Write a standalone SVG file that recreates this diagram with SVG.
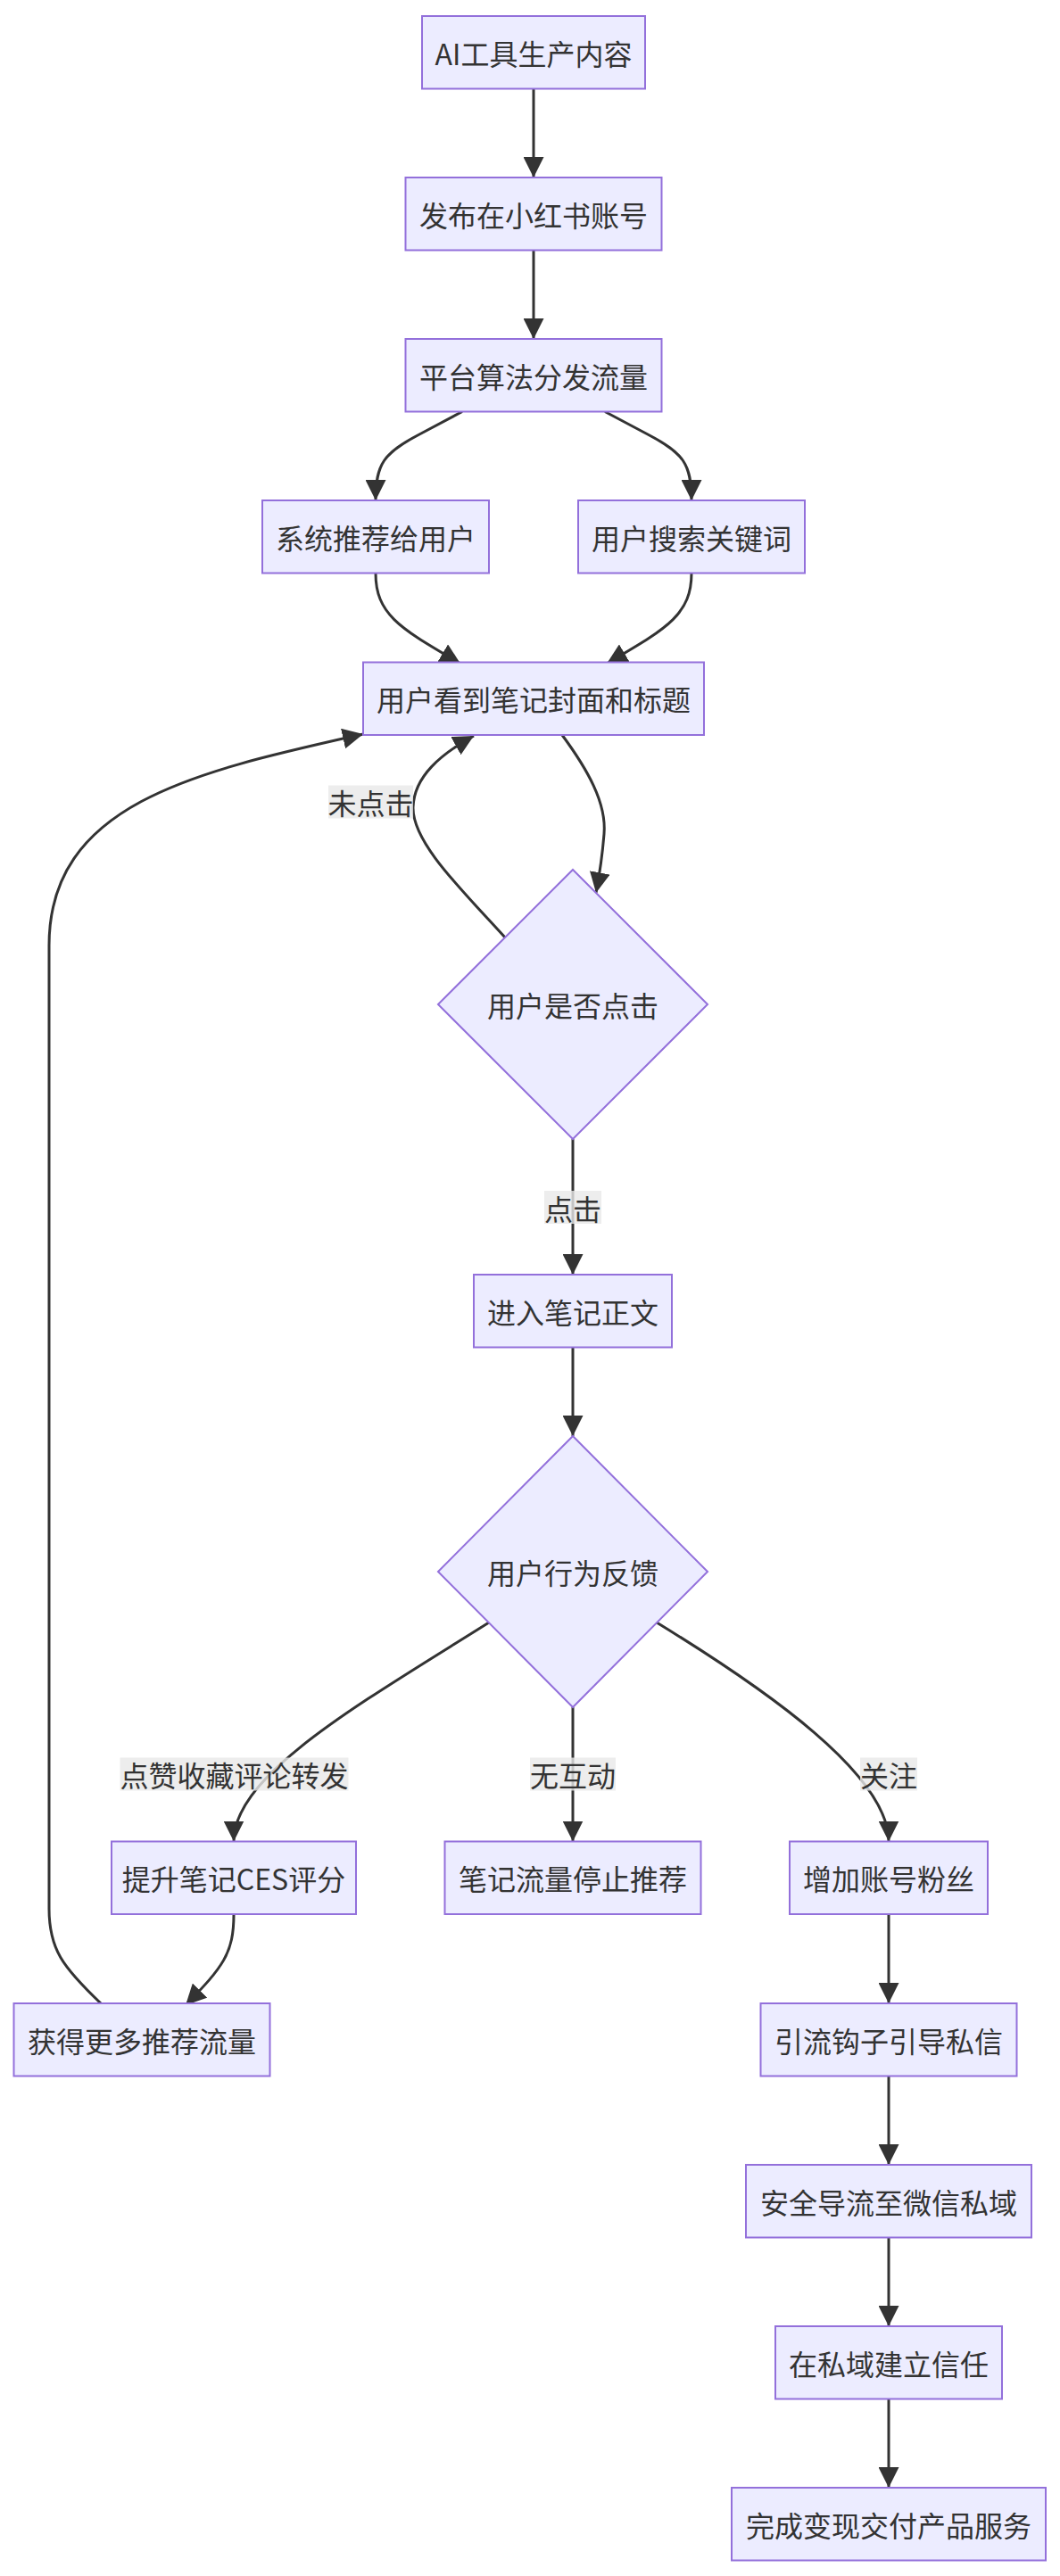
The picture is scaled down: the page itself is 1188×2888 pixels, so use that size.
<svg xmlns="http://www.w3.org/2000/svg" width="1188" height="2888" viewBox="0 0 1188 2888">
<defs>
<style>
.node rect,.node polygon{fill:#ECECFF;stroke:#9370DB;stroke-width:2}
.node text,.lbl text{font-family:"Noto Sans CJK SC","Noto Sans",sans-serif;font-size:32px;fill:#333;text-anchor:middle;dominant-baseline:central}
.edge{fill:none;stroke:#333;stroke-width:3;marker-end:url(#arrow)}
.lbl rect{fill:#e8e8e8;fill-opacity:0.8}
</style>
<marker id="arrow" viewBox="0 0 10 10" refX="10" refY="5" markerUnits="userSpaceOnUse" markerWidth="23" markerHeight="23" orient="auto">
<path d="M0,0 L10,5 L0,10 z" fill="#333"/>
</marker>
</defs>
<rect width="1188" height="2888" fill="#fff"/>
<g id="connectors">
<path class="edge" d="M598,99.5 L598,199"/>
<path class="edge" d="M598,280.5 L598,380"/>
<path class="edge" d="M518,461.5 L470,487 C430,508 421,520 421,561"/>
<path class="edge" d="M678,461.5 L726,487 C766,508 775,520 775,561"/>
<path class="edge" d="M421,642.5 C421,690 450,705 516,744"/>
<path class="edge" d="M775,642.5 C775,690 746,705 680,744"/>
<path class="edge" d="M630,824 C658,862 680,900 677,935 C675,960 672,980 668,1001"/>
<path class="edge" d="M566,1051 C520,1000 462,945 463,905 C464,870 495,845 531,825"/>
<path class="edge" d="M642,1277 L642,1429"/>
<path class="edge" d="M642,1510.5 L642,1610"/>
<path class="edge" d="M548,1819 C400,1912 262,1990 262,2064.5"/>
<path class="edge" d="M642,1914 L642,2064.5"/>
<path class="edge" d="M736,1819 C860,1895 996,1990 996,2064.5"/>
<path class="edge" d="M262,2146 C262,2190 250,2205 208,2248"/>
<path class="edge" d="M113,2246 C70,2205 55,2185 55,2140 L55,1060 C55,900 220,865 407,823"/>
<path class="edge" d="M996,2146 L996,2246"/>
<path class="edge" d="M996,2327.5 L996,2427"/>
<path class="edge" d="M996,2508.5 L996,2608"/>
<path class="edge" d="M996,2689.5 L996,2789"/>
</g>
<g id="edge-labels">
<g class="lbl"><rect x="368" y="880.5" width="95" height="37"/><text x="415.5" y="899">未点击</text></g>
<g class="lbl"><rect x="610" y="1335" width="64" height="37"/><text x="642" y="1353.5">点击</text></g>
<g class="lbl"><rect x="134.5" y="1970.5" width="256" height="37"/><text x="262.5" y="1989">点赞收藏评论转发</text></g>
<g class="lbl"><rect x="594" y="1970.5" width="96" height="37"/><text x="642" y="1989">无互动</text></g>
<g class="lbl"><rect x="964" y="1970.5" width="64" height="37"/><text x="996" y="1989">关注</text></g>
</g>
<g id="n1" class="node"><rect x="473" y="18" width="250" height="81.5"/><text x="598" y="58.75">AI工具生产内容</text></g>
<g id="n2" class="node"><rect x="454.5" y="199" width="287" height="81.5"/><text x="598" y="239.75">发布在小红书账号</text></g>
<g id="n3" class="node"><rect x="454.5" y="380" width="287" height="81.5"/><text x="598" y="420.75">平台算法分发流量</text></g>
<g id="n4" class="node"><rect x="294" y="561" width="254" height="81.5"/><text x="421" y="601.75">系统推荐给用户</text></g>
<g id="n5" class="node"><rect x="648" y="561" width="254" height="81.5"/><text x="775" y="601.75">用户搜索关键词</text></g>
<g id="n6" class="node"><rect x="407" y="742.5" width="382" height="81.5"/><text x="598" y="783.25">用户看到笔记封面和标题</text></g>
<g id="n7" class="node"><polygon points="642,975 793,1126 642,1277 491,1126"/><text x="642" y="1126">用户是否点击</text></g>
<g id="n8" class="node"><rect x="531" y="1429" width="222" height="81.5"/><text x="642" y="1469.75">进入笔记正文</text></g>
<g id="n9" class="node"><polygon points="642,1610 793,1762 642,1914 491,1762"/><text x="642" y="1762">用户行为反馈</text></g>
<g id="n10" class="node"><rect x="125" y="2064.5" width="274" height="81.5"/><text x="262" y="2105.25">提升笔记CES评分</text></g>
<g id="n11" class="node"><rect x="498.5" y="2064.5" width="287" height="81.5"/><text x="642" y="2105.25">笔记流量停止推荐</text></g>
<g id="n12" class="node"><rect x="885" y="2064.5" width="222" height="81.5"/><text x="996" y="2105.25">增加账号粉丝</text></g>
<g id="n13" class="node"><rect x="15.5" y="2246" width="287" height="81.5"/><text x="159" y="2286.75">获得更多推荐流量</text></g>
<g id="n14" class="node"><rect x="852.5" y="2246" width="287" height="81.5"/><text x="996" y="2286.75">引流钩子引导私信</text></g>
<g id="n15" class="node"><rect x="836" y="2427" width="320" height="81.5"/><text x="996" y="2467.75">安全导流至微信私域</text></g>
<g id="n16" class="node"><rect x="869" y="2608" width="254" height="81.5"/><text x="996" y="2648.75">在私域建立信任</text></g>
<g id="n17" class="node"><rect x="820" y="2789" width="352" height="81.5"/><text x="996" y="2829.75">完成变现交付产品服务</text></g>
</svg>
